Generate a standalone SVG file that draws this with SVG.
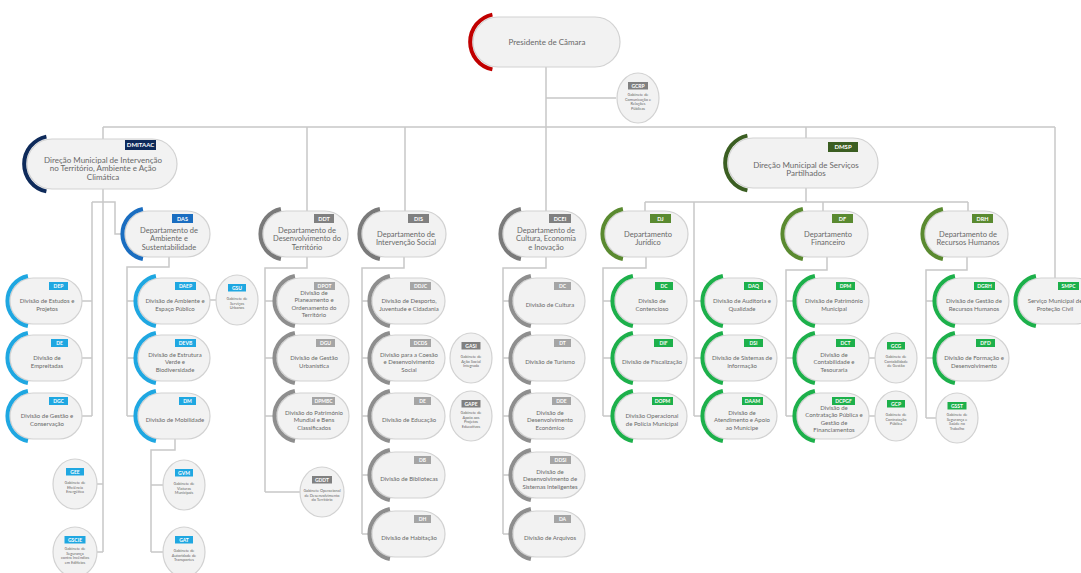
<svg xmlns="http://www.w3.org/2000/svg" width="1081" height="573" viewBox="0 0 1081 573">
<style>
.p{fill:#f2f2f2;stroke:#d2d2d2;stroke-width:1.2}
.e{fill:#f2f2f2;stroke:#d2d2d2;stroke-width:1.2}
.a{fill:none;stroke-width:4}
.t{font-family:Lato,'Liberation Sans',sans-serif;fill:#686868;text-anchor:middle}
.t8{font-size:8px}
.t7{font-size:7.5px}
.t6{font-size:6px}
.t4{font-size:3.9px}
.g{font-family:Lato,'Liberation Sans',sans-serif;fill:#fff;font-weight:bold;text-anchor:middle}
.g6{font-size:6px}
.g5{font-size:5.5px}
.g4{font-size:5px}
.ln{fill:none;stroke:#c8c8c8;stroke-width:1.5}
.sR{stroke:#c00000}.sN{stroke:#0e2a5a}.sB{stroke:#1a6dc0}.sC{stroke:#1fa7e1}.sK{stroke:#7a7a7a}.sk{stroke:#8e8e8e}.sD{stroke:#3b5e22}.sO{stroke:#5a8a30}.sL{stroke:#1db04b}
.fN{fill:#0e2a5a}.fB{fill:#1a6dc0}.fC{fill:#1fa7e1}.fK{fill:#808080}.fk{fill:#a5a5a5}.fD{fill:#3b5e22}.fO{fill:#5a8a30}.fL{fill:#1db04b}
</style>
<rect width="1081" height="573" fill="#fff"/>
<g id="connectors" class="ln">
<path d="M546,67V211M546,98H616M103,127H1055M103,127V139M103,189V552M97,484H103M97,552H103"/>
<path d="M92,202H115V234H123M92,202V416M82,301H92M82,358H92M82,416H92"/>
<path d="M169,257V267H127V416M127,301H138M127,358H138M127,416H138M210,300H216"/>
<path d="M175,439V450H151V552M151,485H163M151,552H163"/>
<path d="M307,127V211M307,257V268H265V492M265,301H277M265,358H277M265,416H277M265,492H300"/>
<path d="M405,127V211M404,257V268H362V534M362,301H372M362,358H372M362,416H372M362,475H372M362,534H372"/>
<path d="M546,257V268H503V534M503,301H513M503,358H513M503,416H513M503,475H513M503,534H513"/>
<path d="M806,127V138M806,188V202M645,202H968M645,202V211M694,202V416M694,301H705M694,358H705M694,416H705M823,202V211M968,202V211"/>
<path d="M646,257V268H603V416M603,301H615M603,358H615M603,416H615"/>
<path d="M827,257V270H786V416M786,301H797M786,358H797M786,416H797M869,358H875M869,416H875"/>
<path d="M967,257V270H926V418M926,301H937M926,358H937M926,418H936"/>
<path d="M1055,127V278"/>
</g>

<g id="n-PC">
<rect class="p" x="473" y="17" width="147" height="50" rx="25"/>
<path class="a sR" d="M492.4,14.6A28,28 0 0 0 492.4,69.4"/>
<text class="t t8" x="547" y="44.8">Presidente de Câmara</text>
</g>
<g id="n-GCRP">
<ellipse class="e" cx="638" cy="98" rx="21" ry="25"/>
<rect class="fK" x="628" y="82" width="20" height="7.5"/>
<text class="g g4" x="638" y="87.8">GCRP</text>
<text class="t t4" x="638" y="96">Gabinete de</text>
<text class="t t4" x="638" y="100.5">Comunicação e</text>
<text class="t t4" x="638" y="105">Relações</text>
<text class="t t4" x="638" y="109.5">Públicas</text>
</g>

<g id="n-DMITAAC">
<rect class="p" x="27" y="139" width="150" height="50" rx="25"/>
<path class="a sN" d="M46.4,136.6A28,28 0 0 0 46.4,191.4"/>
<rect class="fN" x="125" y="140" width="31" height="10"/>
<text class="g g6" x="140.5" y="147.2">DMITAAC</text>
<text class="t t8" x="103" y="162.8">Direção Municipal de Intervenção</text>
<text class="t t8" x="103" y="171.3">no Território, Ambiente e Ação</text>
<text class="t t8" x="103" y="179.8">Climática</text>
</g>

<g id="n-DMSP">
<rect class="p" x="728" y="138" width="150" height="50" rx="25"/>
<path class="a sD" d="M747.4,135.6A28,28 0 0 0 747.4,190.4"/>
<rect class="fD" x="828" y="142" width="30" height="10"/>
<text class="g g6" x="843" y="149.2">DMSP</text>
<text class="t t8" x="806" y="167.5">Direção Municipal de Serviços</text>
<text class="t t8" x="806" y="176">Partilhados</text>
</g>

<!-- Left column -->
<g id="n-DEP">
<rect class="p" x="10" y="278" width="72" height="46" rx="23"/>
<path class="a sC" d="M27.9,276A25.5,25.5 0 0 0 27.9,326"/>
<rect class="fC" x="49" y="282" width="19" height="8"/>
<text class="g g4" x="58.5" y="288">DEP</text>
<text class="t t6" x="47" y="303.35">Divisão de Estudos e</text>
<text class="t t6" x="47" y="310.85">Projetos</text>
</g>
<g id="n-DE1">
<rect class="p" x="10" y="335" width="72" height="46" rx="23"/>
<path class="a sC" d="M27.9,333A25.5,25.5 0 0 0 27.9,383"/>
<rect class="fC" x="51" y="339" width="17" height="8"/>
<text class="g g4" x="59.5" y="345">DE</text>
<text class="t t6" x="47" y="360.35">Divisão de</text>
<text class="t t6" x="47" y="367.85">Empreitadas</text>
</g>
<g id="n-DGC">
<rect class="p" x="10" y="393" width="72" height="46" rx="23"/>
<path class="a sC" d="M27.9,391A25.5,25.5 0 0 0 27.9,441"/>
<rect class="fC" x="49" y="397" width="19" height="8"/>
<text class="g g4" x="58.5" y="403">DGC</text>
<text class="t t6" x="47" y="418.35">Divisão de Gestão e</text>
<text class="t t6" x="47" y="425.85">Conservação</text>
</g>
<g id="n-GEE">
<ellipse class="e" cx="75" cy="484" rx="22" ry="25"/>
<rect class="fC" x="66" y="468" width="18" height="7.5"/>
<text class="g g4" x="75" y="473.8">GEE</text>
<text class="t t4" x="75" y="484">Gabinete de</text>
<text class="t t4" x="75" y="488.5">Eficiência</text>
<text class="t t4" x="75" y="493">Energética</text>
</g>
<g id="n-GSCIE">
<ellipse class="e" cx="75" cy="552" rx="22" ry="25"/>
<rect class="fC" x="64.5" y="536" width="21" height="7.5"/>
<text class="g g4" x="75" y="541.8">GSCIE</text>
<text class="t t4" x="75" y="550">Gabinete de</text>
<text class="t t4" x="75" y="554.5">Segurança</text>
<text class="t t4" x="75" y="559">contra Incêndios</text>
<text class="t t4" x="75" y="563.5">em Edifícios</text>
</g>

<!-- DAS -->
<g id="n-DAS">
<rect class="p" x="125" y="211" width="85" height="46" rx="23"/>
<path class="a sB" d="M142.9,209A25.5,25.5 0 0 0 142.9,259"/>
<rect class="fB" x="172" y="214" width="21" height="9"/>
<text class="g g5" x="182.5" y="220.6">DAS</text>
<text class="t t7" x="169" y="232.6">Departamento de</text>
<text class="t t7" x="169" y="241.1">Ambiente e</text>
<text class="t t7" x="169" y="249.6">Sustentabilidade</text>
</g>
<g id="n-DAEP">
<rect class="p" x="138" y="278" width="72" height="46" rx="23"/>
<path class="a sC" d="M155.9,276A25.5,25.5 0 0 0 155.9,326"/>
<rect class="fC" x="175" y="282" width="21" height="8"/>
<text class="g g4" x="185.5" y="288">DAEP</text>
<text class="t t6" x="175" y="303.35">Divisão de Ambiente e</text>
<text class="t t6" x="175" y="310.85">Espaço Público</text>
</g>
<g id="n-GSU">
<ellipse class="e" cx="237" cy="300" rx="21" ry="25"/>
<rect class="fC" x="228" y="284" width="18" height="7.5"/>
<text class="g g4" x="237" y="289.8">GSU</text>
<text class="t t4" x="237" y="300">Gabinete de</text>
<text class="t t4" x="237" y="304.5">Serviços</text>
<text class="t t4" x="237" y="309">Urbanos</text>
</g>
<g id="n-DEVB">
<rect class="p" x="138" y="335" width="72" height="46" rx="23"/>
<path class="a sC" d="M155.9,333A25.5,25.5 0 0 0 155.9,383"/>
<rect class="fC" x="175" y="339" width="21" height="8"/>
<text class="g g4" x="185.5" y="345">DEVB</text>
<text class="t t6" x="175" y="356.6">Divisão de Estrutura</text>
<text class="t t6" x="175" y="364.1">Verde e</text>
<text class="t t6" x="175" y="371.6">Biodiversidade</text>
</g>
<g id="n-DM">
<rect class="p" x="138" y="393" width="72" height="46" rx="23"/>
<path class="a sC" d="M155.9,391A25.5,25.5 0 0 0 155.9,441"/>
<rect class="fC" x="179" y="397" width="17" height="8"/>
<text class="g g4" x="187.5" y="403">DM</text>
<text class="t t6" x="175" y="422.1">Divisão de Mobilidade</text>
</g>
<g id="n-GVM">
<ellipse class="e" cx="184" cy="485" rx="21" ry="25"/>
<rect class="fC" x="175" y="469" width="18" height="7.5"/>
<text class="g g4" x="184" y="474.8">GVM</text>
<text class="t t4" x="184" y="485">Gabinete de</text>
<text class="t t4" x="184" y="489.5">Viaturas</text>
<text class="t t4" x="184" y="494">Municipais</text>
</g>
<g id="n-GAT">
<ellipse class="e" cx="184" cy="552" rx="21" ry="25"/>
<rect class="fC" x="175" y="536" width="18" height="7.5"/>
<text class="g g4" x="184" y="541.8">GAT</text>
<text class="t t4" x="184" y="552">Gabinete de</text>
<text class="t t4" x="184" y="556.5">Autoridade de</text>
<text class="t t4" x="184" y="561">Transportes</text>
</g>

<!-- DDT -->
<g id="n-DDT">
<rect class="p" x="263" y="211" width="85" height="46" rx="23"/>
<path class="a sK" d="M280.9,209A25.5,25.5 0 0 0 280.9,259"/>
<rect class="fK" x="314" y="214" width="20" height="9"/>
<text class="g g5" x="324" y="220.6">DDT</text>
<text class="t t7" x="307" y="232.6">Departamento de</text>
<text class="t t7" x="307" y="241.1">Desenvolvimento do</text>
<text class="t t7" x="307" y="249.6">Território</text>
</g>
<g id="n-DPOT">
<rect class="p" x="277" y="278" width="72" height="46" rx="23"/>
<path class="a sk" d="M294.9,276A25.5,25.5 0 0 0 294.9,326"/>
<rect class="fk" x="314" y="282" width="21" height="8"/>
<text class="g g4" x="324.5" y="288">DPOT</text>
<text class="t t6" x="314" y="294.85">Divisão de</text>
<text class="t t6" x="314" y="302.35">Planeamento e</text>
<text class="t t6" x="314" y="309.85">Ordenamento do</text>
<text class="t t6" x="314" y="317.35">Território</text>
</g>
<g id="n-DGU">
<rect class="p" x="277" y="335" width="72" height="46" rx="23"/>
<path class="a sk" d="M294.9,333A25.5,25.5 0 0 0 294.9,383"/>
<rect class="fk" x="316" y="339" width="19" height="8"/>
<text class="g g4" x="325.5" y="345">DGU</text>
<text class="t t6" x="314" y="360.35">Divisão de Gestão</text>
<text class="t t6" x="314" y="367.85">Urbanística</text>
</g>
<g id="n-DPMBC">
<rect class="p" x="277" y="393" width="72" height="46" rx="23"/>
<path class="a sk" d="M294.9,391A25.5,25.5 0 0 0 294.9,441"/>
<rect class="fk" x="312" y="397" width="23" height="8"/>
<text class="g g4" x="323.5" y="403">DPMBC</text>
<text class="t t6" x="314" y="414.6">Divisão do Património</text>
<text class="t t6" x="314" y="422.1">Mundial e Bens</text>
<text class="t t6" x="314" y="429.6">Classificados</text>
</g>
<g id="n-GDDT">
<ellipse class="e" cx="322" cy="492" rx="22" ry="25"/>
<rect class="fK" x="312" y="476" width="20" height="7.5"/>
<text class="g g4" x="322" y="481.8">GDDT</text>
<text class="t t4" x="322" y="492">Gabinete Operacional</text>
<text class="t t4" x="322" y="496.5">de Desenvolvimento</text>
<text class="t t4" x="322" y="501">do Território</text>
</g>

<!-- DIS -->
<g id="n-DIS">
<rect class="p" x="362" y="211" width="84" height="46" rx="23"/>
<path class="a sK" d="M379.9,209A25.5,25.5 0 0 0 379.9,259"/>
<rect class="fK" x="408" y="214" width="21" height="9"/>
<text class="g g5" x="418.5" y="220.6">DIS</text>
<text class="t t7" x="406" y="236.85">Departamento de</text>
<text class="t t7" x="406" y="245.35">Intervenção Social</text>
</g>
<g id="n-DDJC">
<rect class="p" x="372" y="278" width="73" height="46" rx="23"/>
<path class="a sk" d="M389.9,276A25.5,25.5 0 0 0 389.9,326"/>
<rect class="fk" x="410" y="282" width="21" height="8"/>
<text class="g g4" x="420.5" y="288">DDJC</text>
<text class="t t6" x="409" y="303.35">Divisão de Desporto,</text>
<text class="t t6" x="409" y="310.85">Juventude e Cidadania</text>
</g>
<g id="n-DCDS">
<rect class="p" x="372" y="335" width="73" height="46" rx="23"/>
<path class="a sk" d="M389.9,333A25.5,25.5 0 0 0 389.9,383"/>
<rect class="fk" x="410" y="339" width="21" height="8"/>
<text class="g g4" x="420.5" y="345">DCDS</text>
<text class="t t6" x="409" y="356.6">Divisão para a Coesão</text>
<text class="t t6" x="409" y="364.1">e Desenvolvimento</text>
<text class="t t6" x="409" y="371.6">Social</text>
</g>
<g id="n-GASI">
<ellipse class="e" cx="471" cy="358" rx="21" ry="25"/>
<rect class="fK" x="461.5" y="342" width="19" height="7.5"/>
<text class="g g4" x="471" y="347.8">GASI</text>
<text class="t t4" x="471" y="358">Gabinete de</text>
<text class="t t4" x="471" y="362.5">Ação Social</text>
<text class="t t4" x="471" y="367">Integrada</text>
</g>
<g id="n-DE2">
<rect class="p" x="372" y="393" width="73" height="46" rx="23"/>
<path class="a sk" d="M389.9,391A25.5,25.5 0 0 0 389.9,441"/>
<rect class="fk" x="414" y="397" width="17" height="8"/>
<text class="g g4" x="422.5" y="403">DE</text>
<text class="t t6" x="409" y="422.1">Divisão de Educação</text>
</g>
<g id="n-GAPE">
<ellipse class="e" cx="471" cy="416" rx="21" ry="25"/>
<rect class="fK" x="461.5" y="400" width="19" height="7.5"/>
<text class="g g4" x="471" y="405.8">GAPE</text>
<text class="t t4" x="471" y="414">Gabinete de</text>
<text class="t t4" x="471" y="418.5">Apoio aos</text>
<text class="t t4" x="471" y="423">Projetos</text>
<text class="t t4" x="471" y="427.5">Educativos</text>
</g>
<g id="n-DB">
<rect class="p" x="372" y="452" width="73" height="46" rx="23"/>
<path class="a sk" d="M389.9,450A25.5,25.5 0 0 0 389.9,500"/>
<rect class="fk" x="414" y="456" width="17" height="8"/>
<text class="g g4" x="422.5" y="462">DB</text>
<text class="t t6" x="409" y="481.1">Divisão de Bibliotecas</text>
</g>
<g id="n-DH">
<rect class="p" x="372" y="511" width="73" height="46" rx="23"/>
<path class="a sk" d="M389.9,509A25.5,25.5 0 0 0 389.9,559"/>
<rect class="fk" x="414" y="515" width="17" height="8"/>
<text class="g g4" x="422.5" y="521">DH</text>
<text class="t t6" x="409" y="540.1">Divisão de Habitação</text>
</g>

<!-- DCEI -->
<g id="n-DCEI">
<rect class="p" x="503" y="211" width="83" height="46" rx="23"/>
<path class="a sK" d="M520.9,209A25.5,25.5 0 0 0 520.9,259"/>
<rect class="fK" x="549" y="214" width="22" height="9"/>
<text class="g g5" x="560" y="220.6">DCEI</text>
<text class="t t7" x="546" y="232.6">Departamento de</text>
<text class="t t7" x="546" y="241.1">Cultura, Economia</text>
<text class="t t7" x="546" y="249.6">e Inovação</text>
</g>
<g id="n-DC1">
<rect class="p" x="513" y="278" width="72" height="46" rx="23"/>
<path class="a sk" d="M530.9,276A25.5,25.5 0 0 0 530.9,326"/>
<rect class="fk" x="554" y="282" width="17" height="8"/>
<text class="g g4" x="562.5" y="288">DC</text>
<text class="t t6" x="550" y="307.1">Divisão de Cultura</text>
</g>
<g id="n-DT">
<rect class="p" x="513" y="335" width="72" height="46" rx="23"/>
<path class="a sk" d="M530.9,333A25.5,25.5 0 0 0 530.9,383"/>
<rect class="fk" x="554" y="339" width="17" height="8"/>
<text class="g g4" x="562.5" y="345">DT</text>
<text class="t t6" x="550" y="364.1">Divisão de Turismo</text>
</g>
<g id="n-DDE">
<rect class="p" x="513" y="393" width="72" height="46" rx="23"/>
<path class="a sk" d="M530.9,391A25.5,25.5 0 0 0 530.9,441"/>
<rect class="fk" x="552" y="397" width="19" height="8"/>
<text class="g g4" x="561.5" y="403">DDE</text>
<text class="t t6" x="550" y="414.6">Divisão de</text>
<text class="t t6" x="550" y="422.1">Desenvolvimento</text>
<text class="t t6" x="550" y="429.6">Económico</text>
</g>
<g id="n-DDSI">
<rect class="p" x="513" y="452" width="72" height="46" rx="23"/>
<path class="a sk" d="M530.9,450A25.5,25.5 0 0 0 530.9,500"/>
<rect class="fk" x="550" y="456" width="21" height="8"/>
<text class="g g4" x="560.5" y="462">DDSI</text>
<text class="t t6" x="550" y="473.6">Divisão de</text>
<text class="t t6" x="550" y="481.1">Desenvolvimento de</text>
<text class="t t6" x="550" y="488.6">Sistemas Inteligentes</text>
</g>
<g id="n-DA">
<rect class="p" x="513" y="511" width="72" height="46" rx="23"/>
<path class="a sk" d="M530.9,509A25.5,25.5 0 0 0 530.9,559"/>
<rect class="fk" x="554" y="515" width="17" height="8"/>
<text class="g g4" x="562.5" y="521">DA</text>
<text class="t t6" x="550" y="540.1">Divisão de Arquivos</text>
</g>

<!-- DJ -->
<g id="n-DJ">
<rect class="p" x="605" y="211" width="83" height="46" rx="23"/>
<path class="a sO" d="M622.9,209A25.5,25.5 0 0 0 622.9,259"/>
<rect class="fO" x="650" y="214" width="21" height="9"/>
<text class="g g5" x="660.5" y="220.6">DJ</text>
<text class="t t7" x="648" y="236.85">Departamento</text>
<text class="t t7" x="648" y="245.35">Jurídico</text>
</g>
<g id="n-DC2">
<rect class="p" x="615" y="278" width="72" height="46" rx="23"/>
<path class="a sL" d="M632.9,276A25.5,25.5 0 0 0 632.9,326"/>
<rect class="fL" x="655" y="282" width="18" height="8"/>
<text class="g g4" x="664" y="288">DC</text>
<text class="t t6" x="652" y="303.35">Divisão de</text>
<text class="t t6" x="652" y="310.85">Contencioso</text>
</g>
<g id="n-DIF">
<rect class="p" x="615" y="335" width="72" height="46" rx="23"/>
<path class="a sL" d="M632.9,333A25.5,25.5 0 0 0 632.9,383"/>
<rect class="fL" x="654" y="339" width="19" height="8"/>
<text class="g g4" x="663.5" y="345">DIF</text>
<text class="t t6" x="652" y="364.1">Divisão de Fiscalização</text>
</g>
<g id="n-DOPM">
<rect class="p" x="615" y="393" width="72" height="46" rx="23"/>
<path class="a sL" d="M632.9,391A25.5,25.5 0 0 0 632.9,441"/>
<rect class="fL" x="652" y="397" width="21" height="8"/>
<text class="g g4" x="662.5" y="403">DOPM</text>
<text class="t t6" x="652" y="418.35">Divisão Operacional</text>
<text class="t t6" x="652" y="425.85">de Polícia Municipal</text>
</g>

<!-- middle green column -->
<g id="n-DAQ">
<rect class="p" x="705" y="278" width="72" height="46" rx="23"/>
<path class="a sL" d="M722.9,276A25.5,25.5 0 0 0 722.9,326"/>
<rect class="fL" x="744" y="282" width="19" height="8"/>
<text class="g g4" x="753.5" y="288">DAQ</text>
<text class="t t6" x="742" y="303.35">Divisão de Auditoria e</text>
<text class="t t6" x="742" y="310.85">Qualidade</text>
</g>
<g id="n-DSI">
<rect class="p" x="705" y="335" width="72" height="46" rx="23"/>
<path class="a sL" d="M722.9,333A25.5,25.5 0 0 0 722.9,383"/>
<rect class="fL" x="744" y="339" width="19" height="8"/>
<text class="g g4" x="753.5" y="345">DSI</text>
<text class="t t6" x="742" y="360.35">Divisão de Sistemas de</text>
<text class="t t6" x="742" y="367.85">Informação</text>
</g>
<g id="n-DAAM">
<rect class="p" x="705" y="393" width="72" height="46" rx="23"/>
<path class="a sL" d="M722.9,391A25.5,25.5 0 0 0 722.9,441"/>
<rect class="fL" x="742" y="397" width="21" height="8"/>
<text class="g g4" x="752.5" y="403">DAAM</text>
<text class="t t6" x="742" y="414.6">Divisão de</text>
<text class="t t6" x="742" y="422.1">Atendimento e Apoio</text>
<text class="t t6" x="742" y="429.6">ao Munícipe</text>
</g>

<!-- DF -->
<g id="n-DF">
<rect class="p" x="785" y="211" width="83" height="46" rx="23"/>
<path class="a sO" d="M802.9,209A25.5,25.5 0 0 0 802.9,259"/>
<rect class="fO" x="832" y="214" width="21" height="9"/>
<text class="g g5" x="842.5" y="220.6">DF</text>
<text class="t t7" x="828" y="236.85">Departamento</text>
<text class="t t7" x="828" y="245.35">Financeiro</text>
</g>
<g id="n-DPM">
<rect class="p" x="797" y="278" width="72" height="46" rx="23"/>
<path class="a sL" d="M814.9,276A25.5,25.5 0 0 0 814.9,326"/>
<rect class="fL" x="836" y="282" width="19" height="8"/>
<text class="g g4" x="845.5" y="288">DPM</text>
<text class="t t6" x="834" y="303.35">Divisão de Património</text>
<text class="t t6" x="834" y="310.85">Municipal</text>
</g>
<g id="n-DCT">
<rect class="p" x="797" y="335" width="72" height="46" rx="23"/>
<path class="a sL" d="M814.9,333A25.5,25.5 0 0 0 814.9,383"/>
<rect class="fL" x="836" y="339" width="19" height="8"/>
<text class="g g4" x="845.5" y="345">DCT</text>
<text class="t t6" x="834" y="356.6">Divisão de</text>
<text class="t t6" x="834" y="364.1">Contabilidade e</text>
<text class="t t6" x="834" y="371.6">Tesouraria</text>
</g>
<g id="n-GCG">
<ellipse class="e" cx="896" cy="358" rx="21" ry="25"/>
<rect class="fL" x="887" y="342" width="18" height="7.5"/>
<text class="g g4" x="896" y="347.8">GCG</text>
<text class="t t4" x="896" y="358">Gabinete de</text>
<text class="t t4" x="896" y="362.5">Contabilidade</text>
<text class="t t4" x="896" y="367">de Gestão</text>
</g>
<g id="n-DCPGF">
<rect class="p" x="797" y="393" width="72" height="46" rx="23"/>
<path class="a sL" d="M814.9,391A25.5,25.5 0 0 0 814.9,441"/>
<rect class="fL" x="832" y="397" width="23" height="8"/>
<text class="g g4" x="843.5" y="403">DCPGF</text>
<text class="t t6" x="834" y="409.85">Divisão de</text>
<text class="t t6" x="834" y="417.35">Contratação Pública e</text>
<text class="t t6" x="834" y="424.85">Gestão de</text>
<text class="t t6" x="834" y="432.35">Financiamentos</text>
</g>
<g id="n-GCP">
<ellipse class="e" cx="896" cy="416" rx="21" ry="25"/>
<rect class="fL" x="887" y="400" width="18" height="7.5"/>
<text class="g g4" x="896" y="405.8">GCP</text>
<text class="t t4" x="896" y="416">Gabinete de</text>
<text class="t t4" x="896" y="420.5">Contratação</text>
<text class="t t4" x="896" y="425">Pública</text>
</g>

<!-- DRH -->
<g id="n-DRH">
<rect class="p" x="925" y="211" width="83" height="46" rx="23"/>
<path class="a sO" d="M942.9,209A25.5,25.5 0 0 0 942.9,259"/>
<rect class="fO" x="972" y="214" width="21" height="9"/>
<text class="g g5" x="982.5" y="220.6">DRH</text>
<text class="t t7" x="968" y="236.85">Departamento de</text>
<text class="t t7" x="968" y="245.35">Recursos Humanos</text>
</g>
<g id="n-DGRH">
<rect class="p" x="937" y="278" width="72" height="46" rx="23"/>
<path class="a sL" d="M954.9,276A25.5,25.5 0 0 0 954.9,326"/>
<rect class="fL" x="974" y="282" width="21" height="8"/>
<text class="g g4" x="984.5" y="288">DGRH</text>
<text class="t t6" x="974" y="303.35">Divisão de Gestão de</text>
<text class="t t6" x="974" y="310.85">Recursos Humanos</text>
</g>
<g id="n-DFD">
<rect class="p" x="937" y="335" width="72" height="46" rx="23"/>
<path class="a sL" d="M954.9,333A25.5,25.5 0 0 0 954.9,383"/>
<rect class="fL" x="976" y="339" width="19" height="8"/>
<text class="g g4" x="985.5" y="345">DFD</text>
<text class="t t6" x="974" y="360.35">Divisão de Formação e</text>
<text class="t t6" x="974" y="367.85">Desenvolvimento</text>
</g>
<g id="n-GSST">
<ellipse class="e" cx="957" cy="418" rx="21" ry="25"/>
<rect class="fL" x="947.5" y="402" width="19" height="7.5"/>
<text class="g g4" x="957" y="407.8">GSST</text>
<text class="t t4" x="957" y="416">Gabinete de</text>
<text class="t t4" x="957" y="420.5">Segurança e</text>
<text class="t t4" x="957" y="425">Saúde no</text>
<text class="t t4" x="957" y="429.5">Trabalho</text>
</g>

<g id="n-SMPC">
<rect class="p" x="1018" y="278" width="80" height="46" rx="23"/>
<path class="a sL" d="M1035.9,276A25.5,25.5 0 0 0 1035.9,326"/>
<rect class="fL" x="1058" y="282" width="21" height="8"/>
<text class="g g4" x="1068.5" y="288">SMPC</text>
<text class="t t6" x="1055" y="303.35">Serviço Municipal de</text>
<text class="t t6" x="1055" y="310.85">Proteção Civil</text>
</g>
</svg>
